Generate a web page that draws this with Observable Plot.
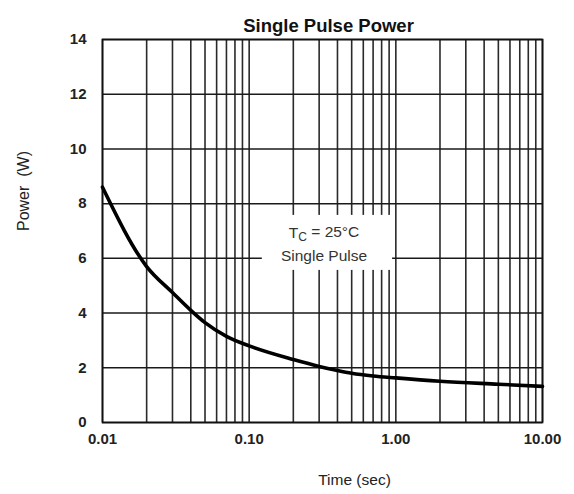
<!DOCTYPE html>
<html>
<head>
<meta charset="utf-8">
<script src="https://cdn.jsdelivr.net/npm/d3@7"></script>
<script src="https://cdn.jsdelivr.net/npm/@observablehq/plot@0.6"></script>
<style>
  html, body { margin: 0; padding: 0; background: #fff; }
  #chart svg { font-family: "Liberation Sans", Arial, sans-serif; display: block; }
</style>
</head>
<body>
<div id="chart"></div>
<script>
// Curve data
const timeSec = [0.01, 0.02, 0.03, 0.04, 0.05, 0.07, 0.1, 0.2, 0.3, 0.4, 0.5, 0.7, 1, 2, 5, 10];
const powerW  = [8.6, 5.7, 4.75, 4.1, 3.65, 3.15, 2.8, 2.3, 2.05, 1.9, 1.8, 1.7, 1.63, 1.51, 1.4, 1.32];

// Axis ticks and grid
const xTickValues = [0.01, 0.1, 1, 10];
const yTickValues = [0, 2, 4, 6, 8, 10, 12, 14];
const xGridValues = [0.01, 0.02, 0.03, 0.04, 0.05, 0.06, 0.07, 0.08, 0.09,
                     0.1, 0.2, 0.3, 0.4, 0.5, 0.6, 0.7, 0.8, 0.9,
                     1, 2, 3, 4, 5, 6, 7, 8, 9, 10];

// Annotation
const noteLines = ["TC = 25°C", "Single Pulse"];
const noteBox = {x1: 0.123, x2: 0.95, y1: 5.56, y2: 7.57};
const noteX = 0.324;
const noteY = [6.92, 6.07];

const curve = timeSec.map((t, i) => ({t, p: powerW[i]}));

const chart = Plot.plot({
  width: 574,
  height: 494,
  marginLeft: 102,
  marginRight: 32,
  marginTop: 39,
  marginBottom: 72,
  x: {type: "log", domain: [0.01, 10]},
  y: {domain: [0, 14]},
  style: {fontFamily: "'Liberation Sans', Arial, sans-serif", color: "#222", background: "#fff"},
  marks: [
    Plot.ruleX(xGridValues, {stroke: "#2a2a2a", strokeWidth: 1.6}),
    Plot.ruleY(yTickValues, {stroke: "#1a1a1a", strokeWidth: 1.5}),
    Plot.rect([noteBox], {x1: "x1", x2: "x2", y1: "y1", y2: "y2", fill: "#fff"}),
    Plot.text(noteLines, {x: () => noteX, y: (d, i) => noteY[i], text: d => d,
      fontSize: 15.5, fill: "#333", textAnchor: "middle"}),
    Plot.frame({stroke: "#111", strokeWidth: 1.7}),
    Plot.line(curve, {x: "t", y: "p", curve: "monotone-x", stroke: "#000", strokeWidth: 3.6}),
    Plot.axisX({ticks: xTickValues, tickFormat: d3.format(".2f"), tickSize: 0, tickPadding: 11,
      fontSize: 15, fontWeight: "bold", label: null}),
    Plot.axisY({ticks: yTickValues, tickSize: 0, tickPadding: 16,
      fontSize: 15, fontWeight: "bold", label: null}),
    Plot.text(["Single Pulse Power"], {frameAnchor: "top", dx: 6, dy: -21, fontSize: 18.5, fontWeight: "bold", fill: "#111"}),
    Plot.text(["Time (sec)"], {frameAnchor: "bottom", dx: 32, dy: 62, fontSize: 15.5, fill: "#222"}),
    Plot.text(["Power  (W)"], {frameAnchor: "left", dx: -79, rotate: -90, fontSize: 16, fill: "#222"})
  ]
});

// subscript C in TC
d3.select(chart).selectAll("text").each(function() {
  if (this.textContent === noteLines[0]) {
    const t = d3.select(this);
    t.text(null);
    t.append("tspan").text("T");
    t.append("tspan").attr("dy", "0.22em").attr("font-size", "12").text("C");
    t.append("tspan").attr("dy", "-0.22em").text(" = 25°C");
  }
});

document.getElementById("chart").appendChild(chart);
</script>
</body>
</html>
